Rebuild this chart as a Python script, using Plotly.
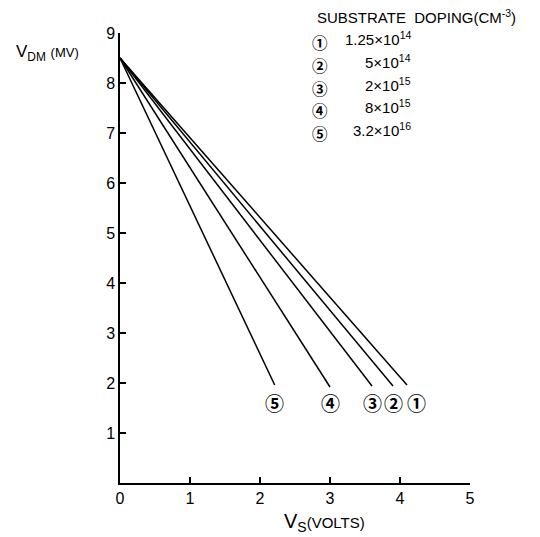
import plotly.graph_objects as go

# ---- data ----
curve_ids = ["①", "②", "③", "④", "⑤"]
dopings = ["1.25×10<sup>14</sup>", "5×10<sup>14</sup>", "2×10<sup>15</sup>",
           "8×10<sup>15</sup>", "3.2×10<sup>16</sup>"]
vs_start = 0.0
vdm_start = 8.5
vs_end = [4.10, 3.90, 3.60, 3.00, 2.21]
vdm_end = [1.96, 1.94, 1.94, 1.92, 1.96]
label_vdm = 1.62
x_ticks = [0, 1, 2, 3, 4, 5]
y_ticks = [1, 2, 3, 4, 5, 6, 7, 8, 9]

FONT = "Liberation Sans, Arial, sans-serif"
CIRC = "Noto Sans CJK JP, DejaVu Sans, sans-serif"

# page offset of the figure (body margin) and target plot area in page pixels
OFF = 8
W, H = 540, 537
X0, X1, Y0, Y1 = 120, 470, 33, 483   # left, right, top, bottom (page px)
L, R, T, B = X0 - OFF, W + OFF - X1, Y0 - OFF, H + OFF - Y1
pw, ph = X1 - X0, Y1 - Y0


def px(xp):
    return (xp - X0) / pw


def py(yp):
    return (Y1 - yp) / ph


fig = go.Figure()
for i in range(len(vs_end)):
    fig.add_trace(go.Scatter(
        x=[vs_start, vs_end[i]], y=[vdm_start, vdm_end[i]],
        mode="lines", line=dict(color="black", width=1.5),
        showlegend=False, hoverinfo="skip"))

ann = []
# end-of-line circled labels
for i in range(len(vs_end)):
    ann.append(dict(x=vs_end[i], y=label_vdm, xref="x", yref="y",
                    text="<b>" + curve_ids[i] + "</b>", showarrow=False,
                    xshift=9 if i == 0 else 0,
                    font=dict(family=CIRC, size=19, color="black")))

# legend block
ann.append(dict(x=px(315), y=py(17), xref="paper", yref="paper",
                xanchor="left", yanchor="middle", showarrow=False,
                text="SUBSTRATE  DOPING(CM<sup>-3</sup>)",
                font=dict(family=FONT, size=15, color="black")))
rows = [42, 65, 88, 110, 133]
for i in range(len(dopings)):
    ann.append(dict(x=px(320), y=py(rows[i]), xref="paper", yref="paper",
                    xanchor="center", yanchor="middle", showarrow=False,
                    text="<b>" + curve_ids[i] + "</b>",
                    font=dict(family=CIRC, size=15.5, color="black")))
    ann.append(dict(x=px(413), y=py(rows[i] - 3), xref="paper", yref="paper",
                    xanchor="right", yanchor="middle", showarrow=False,
                    text=dopings[i],
                    font=dict(family=FONT, size=15, color="black")))

# axis titles
ann.append(dict(x=px(14), y=py(53), xref="paper", yref="paper",
                xanchor="left", yanchor="middle", showarrow=False,
                text="V<sub>DM</sub> <span style='font-size:13px'>(MV)</span>",
                font=dict(family=FONT, size=17, color="black")))
ann.append(dict(x=px(324), y=py(522), xref="paper", yref="paper",
                xanchor="center", yanchor="middle", showarrow=False,
                text="V<sub>S</sub><span style='font-size:15px'>(VOLTS)</span>",
                font=dict(family=FONT, size=20, color="black")))

fig.update_layout(
    width=W, height=H,
    margin=dict(l=L, r=R, t=T, b=B),
    paper_bgcolor="white", plot_bgcolor="white",
    annotations=ann,
    font=dict(family=FONT, size=16, color="black"),
    xaxis=dict(range=[0, 5], tickvals=x_ticks, showgrid=False, zeroline=False,
               showline=True, linecolor="black", linewidth=1.5,
               ticks="inside", ticklen=6, tickwidth=1.5, tickcolor="black",
               tickfont=dict(size=16)),
    yaxis=dict(range=[0, 9], tickvals=y_ticks, showgrid=False, zeroline=False,
               showline=True, linecolor="black", linewidth=1.5,
               ticks="inside", ticklen=6, tickwidth=1.5, tickcolor="black",
               tickfont=dict(size=16)),
)

fig.write_html("out.html")
